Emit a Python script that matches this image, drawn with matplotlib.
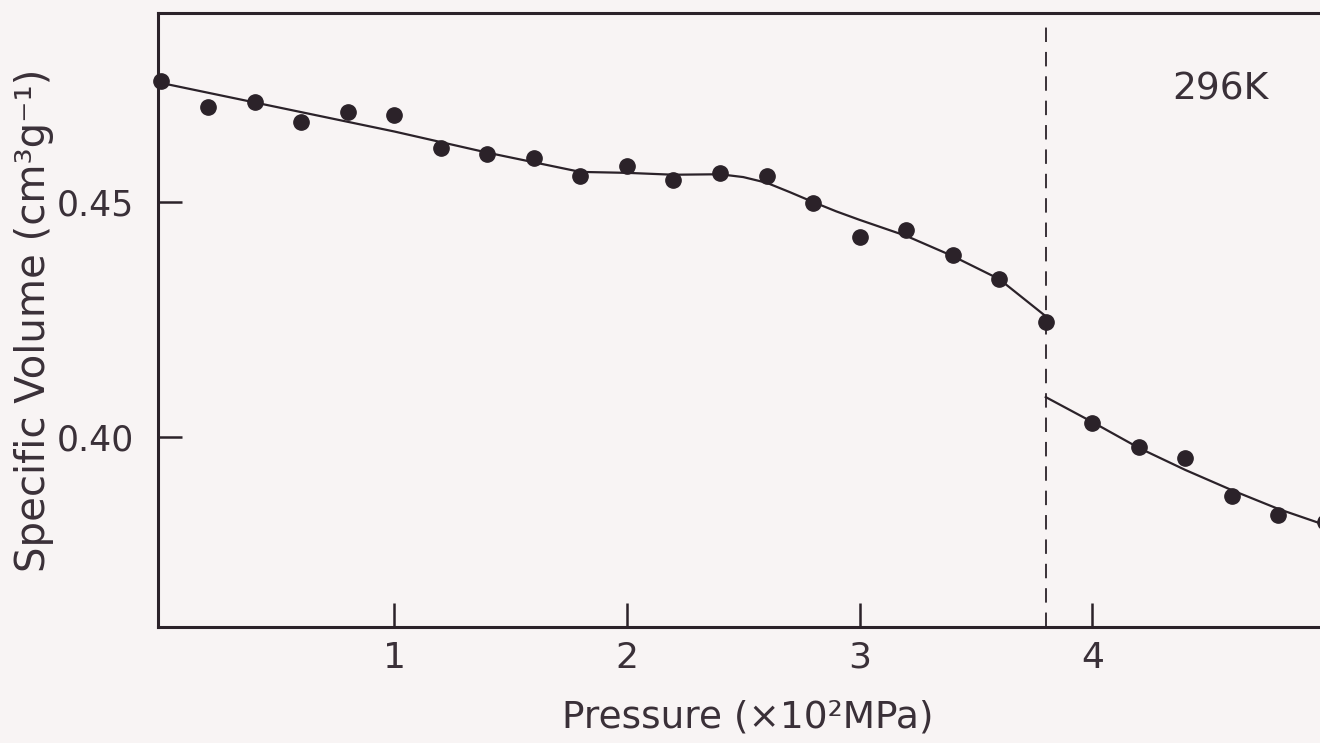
import numpy as np
import matplotlib
matplotlib.use('Agg')
import matplotlib.pyplot as plt

# measured points (pressure in 10^2 MPa, specific volume in cm3/g)
pressure = [0.0, 0.2, 0.4, 0.6, 0.8, 1.0, 1.2, 1.4, 1.6, 1.8, 2.0, 2.2, 2.4, 2.6, 2.8, 3.0,
            3.2, 3.4, 3.6, 3.8, 4.0, 4.2, 4.4, 4.6, 4.8, 5.0]
volume = [0.4757, 0.4702, 0.4713, 0.4670, 0.4691, 0.4685, 0.4615, 0.4602, 0.4594, 0.4555,
          0.4577, 0.4547, 0.4562, 0.4555, 0.4498, 0.4426, 0.4440, 0.4387, 0.4336, 0.4245,
          0.4030, 0.3979, 0.3955, 0.3874, 0.3834, 0.3819]

# fitted curve, low-pressure phase
fit1_p = [0.0, 1.0, 1.4, 1.8, 2.0, 2.2, 2.4, 2.5, 2.6, 2.7, 2.8, 2.9, 3.0, 3.2, 3.4, 3.6, 3.8]
fit1_v = [0.4753, 0.4650, 0.4605, 0.4564, 0.4562, 0.4558, 0.4559, 0.4553, 0.4541, 0.4521,
          0.4500, 0.4480, 0.4462, 0.4428, 0.4385, 0.4336, 0.4257]
# fitted curve, high-pressure phase
fit2_p = [3.8, 4.0, 4.2, 4.4, 4.6, 4.8, 5.0]
fit2_v = [0.4085, 0.4032, 0.3977, 0.3930, 0.3887, 0.3847, 0.3813]

p_transition = 3.8

bg = '#f8f4f4'
ink = '#2b2229'
txt = '#3a3038'

plt.rcParams['font.family'] = ['DejaVu Sans']

fig = plt.figure(figsize=(13.2, 7.43), dpi=100, facecolor=bg)
W, H = 1320, 743
left, top, bottom = 158, 13, 627
xmin, xmax = -0.015, 5.05
ppu = 232.7
right = left + (xmax - xmin) * ppu
ax = fig.add_axes([left / W, 1 - bottom / H, (right - left) / W, (bottom - top) / H])
ax.set_facecolor(bg)

ax.plot(fit1_p, fit1_v, color=ink, lw=1.6, zorder=2, solid_joinstyle='round')
ax.plot(fit2_p, fit2_v, color=ink, lw=1.6, zorder=2, solid_joinstyle='round')
ax.plot(pressure, volume, 'o', color=ink, ms=11, zorder=3, clip_on=False)
ax.axvline(p_transition, ymin=0, ymax=0.988, color=ink, lw=1.3, ls=(0, (8, 5.5)), zorder=1)

ax.set_xlim(xmin, xmax)
ax.set_ylim(0.3596, 0.4902)
ax.set_xticks([1, 2, 3, 4])
ax.set_xticklabels(['1', '2', '3', '4'])
ax.set_yticks([0.40, 0.45])
ax.set_yticklabels(['0.40', '0.45'])
ax.tick_params(direction='in', length=17, width=1.8, color=ink, labelcolor=txt,
               labelsize=26, pad=10)
ax.tick_params(axis='y', labelsize=25, pad=17)
for s in ax.spines.values():
    s.set_color(ink)
    s.set_linewidth(2.2)

ax.set_xlabel('Pressure (×10²MPa)', fontsize=27, color=txt, labelpad=18)
ax.set_ylabel('Specific Volume (cm³g⁻¹)', fontsize=29, color=txt, labelpad=2)
ax.text(4.55, 0.4740, '296K', fontsize=27, color=txt, ha='center', va='center')

fig.savefig('out.png', dpi=100, facecolor=bg)
